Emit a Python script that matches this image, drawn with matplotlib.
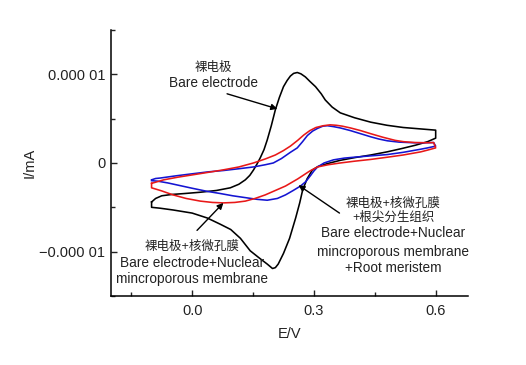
import numpy as np
import matplotlib
matplotlib.use('Agg')
import matplotlib.pyplot as plt

plt.rcParams['font.family'] = ['Liberation Sans', 'Noto Sans CJK SC', 'DejaVu Sans']

# Bare electrode (E in V, I in 1e-5 mA)
bare_E = [-0.10, -0.09, -0.075, -0.05, -0.02, 0.02, 0.06, 0.094, 0.115, 0.131,
          0.142, 0.151, 0.16, 0.168, 0.177, 0.185, 0.195, 0.205, 0.215, 0.225,
          0.234, 0.242, 0.25, 0.259, 0.268, 0.279, 0.29, 0.304, 0.318, 0.328,
          0.345, 0.365, 0.40, 0.44, 0.48, 0.52, 0.56, 0.60,
          0.60, 0.58, 0.55, 0.514, 0.48, 0.44, 0.40, 0.365, 0.335, 0.31,
          0.296, 0.283, 0.272, 0.265, 0.255, 0.24, 0.225, 0.212, 0.205, 0.198,
          0.185, 0.165, 0.143, 0.119, 0.095, 0.069, 0.037, 0.0, -0.047, -0.079,
          -0.10, -0.10]
bare_I = [-0.44, -0.40, -0.37, -0.355, -0.345, -0.33, -0.31, -0.28, -0.24, -0.19,
          -0.14, -0.08, -0.01, 0.06, 0.15, 0.26, 0.42, 0.60, 0.74, 0.86,
          0.93, 0.98, 1.01, 1.02, 1.005, 0.97, 0.92, 0.86, 0.78, 0.71,
          0.63, 0.565, 0.51, 0.46, 0.425, 0.40, 0.385, 0.37,
          0.28, 0.24, 0.20, 0.16, 0.125, 0.09, 0.06, 0.03, -0.005, -0.04,
          -0.08, -0.18, -0.31, -0.45, -0.62, -0.85, -1.02, -1.14, -1.18, -1.19,
          -1.14, -1.07, -0.99, -0.85, -0.75, -0.69, -0.62, -0.565, -0.53, -0.51,
          -0.50, -0.44]

# Bare electrode + nuclear microporous membrane
memb_E = [-0.10, -0.09, -0.079, -0.04, -0.005, 0.04, 0.077, 0.115, 0.151, 0.18,
          0.20, 0.22, 0.242, 0.259, 0.272, 0.284, 0.297, 0.309, 0.322, 0.333,
          0.348, 0.365, 0.39, 0.415, 0.44, 0.46, 0.481, 0.51, 0.546, 0.575, 0.595, 0.60,
          0.58, 0.563, 0.52, 0.481, 0.44, 0.407, 0.375, 0.348, 0.325, 0.309,
          0.30, 0.292, 0.28, 0.267, 0.249, 0.23, 0.21, 0.185, 0.16, 0.13,
          0.10, 0.07, 0.037, 0.0, -0.03, -0.06, -0.085, -0.10]
memb_I = [-0.19, -0.175, -0.17, -0.145, -0.125, -0.10, -0.085, -0.065, -0.045, -0.02,
          0.0, 0.05, 0.12, 0.17, 0.24, 0.31, 0.36, 0.39, 0.415, 0.42,
          0.41, 0.395, 0.365, 0.33, 0.295, 0.27, 0.25, 0.235, 0.228, 0.228, 0.23, 0.19,
          0.17, 0.155, 0.12, 0.095, 0.08, 0.068, 0.055, 0.035, 0.0, -0.045,
          -0.09, -0.14, -0.21, -0.26, -0.31, -0.36, -0.40, -0.42, -0.41, -0.39,
          -0.37, -0.345, -0.32, -0.285, -0.255, -0.225, -0.205, -0.20]

# Bare electrode + membrane + root meristem
root_E = [-0.10, -0.07, -0.035, 0.02, 0.074, 0.115, 0.151, 0.18, 0.205, 0.225,
          0.242, 0.26, 0.275, 0.29, 0.305, 0.323, 0.34, 0.355, 0.37, 0.39,
          0.415, 0.44, 0.47, 0.50, 0.521, 0.55, 0.575, 0.595, 0.60,
          0.58, 0.563, 0.52, 0.481, 0.44, 0.40, 0.365, 0.335, 0.309, 0.29,
          0.275, 0.26, 0.245, 0.23, 0.205, 0.18, 0.155, 0.131, 0.105, 0.077,
          0.05, 0.02, -0.015, -0.047, -0.075, -0.10, -0.10]
root_I = [-0.23, -0.19, -0.16, -0.12, -0.08, -0.045, 0.0, 0.045, 0.09, 0.14,
          0.19, 0.255, 0.315, 0.365, 0.40, 0.42, 0.43, 0.425, 0.415, 0.395,
          0.365, 0.33, 0.29, 0.255, 0.24, 0.23, 0.228, 0.23, 0.17,
          0.145, 0.125, 0.09, 0.065, 0.04, 0.02, 0.0, -0.02, -0.045, -0.09,
          -0.135, -0.18, -0.22, -0.26, -0.31, -0.36, -0.40, -0.43, -0.445, -0.45,
          -0.445, -0.43, -0.40, -0.36, -0.315, -0.28, -0.23]

scale = 1e-5
x_ticks = [0.0, 0.3, 0.6]
x_ticklabels = ['0.0', '0.3', '0.6']
y_ticks = [-1e-5, 0, 1e-5]
y_ticklabels = ['\u22120.000 01', '0', '0.000 01']

fig = plt.figure(figsize=(5.26, 3.65), dpi=100)
ax = fig.add_axes([0.211, 0.189, 0.679, 0.729])

ax.plot(bare_E, np.array(bare_I) * scale, color='black', lw=1.15)
ax.plot(memb_E, np.array(memb_I) * scale, color='#1414d2', lw=1.15)
ax.plot(root_E, np.array(root_I) * scale, color='#e81818', lw=1.15)

ax.set_xlim(-0.2, 0.68)
ax.set_ylim(-1.5e-5, 1.5e-5)
ax.set_xticks(x_ticks)
ax.set_xticklabels(x_ticklabels)
ax.set_xticks([-0.15, 0.15, 0.45], minor=True)
ax.set_yticks(y_ticks)
ax.set_yticklabels(y_ticklabels)
ax.set_yticks([-1.5e-5, -0.5e-5, 0.5e-5, 1.5e-5], minor=True)

for side in ['top', 'right']:
    ax.spines[side].set_visible(False)
for side in ['left', 'bottom']:
    ax.spines[side].set_linewidth(1.1)

ax.tick_params(which='both', direction='in', width=1.0, labelsize=10.5, colors='#222222')
ax.tick_params(which='major', length=4)
ax.tick_params(which='minor', length=3)
ax.tick_params(axis='x', pad=6)
ax.tick_params(axis='y', pad=4)

ax.set_xlabel('E/V', fontsize=10.5, labelpad=6, color='#222222')
ax.set_ylabel('I/mA', fontsize=10.5, labelpad=2, color='#222222')

txt = dict(ha='center', va='center', fontsize=9.8, color='#222222')
cjk = dict(ha='center', va='center', fontsize=9.0, color='#222222')
arrow = dict(arrowstyle='-|>', color='black', lw=1.0, mutation_scale=9, shrinkA=0, shrinkB=0)

# annotation: bare electrode
ax.text(0.052, 1.073e-5, '裸电极', **cjk)
ax.text(0.052, 0.904e-5, 'Bare electrode', **txt)
ax.annotate('', xy=(0.21, 0.61e-5), xytext=(0.086, 0.78e-5), arrowprops=arrow)

# annotation: electrode + membrane
ax.text(0.0, -0.949e-5, '裸电极+核微孔膜', **cjk)
ax.text(0.0, -1.13e-5, 'Bare electrode+Nuclear', **txt)
ax.text(0.0, -1.31e-5, 'mincroporous membrane', **txt)
ax.annotate('', xy=(0.077, -0.45e-5), xytext=(0.012, -0.76e-5), arrowprops=arrow)

# annotation: electrode + membrane + root meristem
ax.text(0.496, -0.46e-5, '裸电极+核微孔膜', **cjk)
ax.text(0.496, -0.615e-5, '+根尖分生组织', **cjk)
ax.text(0.496, -0.791e-5, 'Bare electrode+Nuclear', **txt)
ax.text(0.496, -1.006e-5, 'mincroporous membrane', **txt)
ax.text(0.496, -1.186e-5, '+Root meristem', **txt)
ax.annotate('', xy=(0.262, -0.25e-5), xytext=(0.363, -0.565e-5), arrowprops=arrow)

fig.savefig('out.png', dpi=100)
